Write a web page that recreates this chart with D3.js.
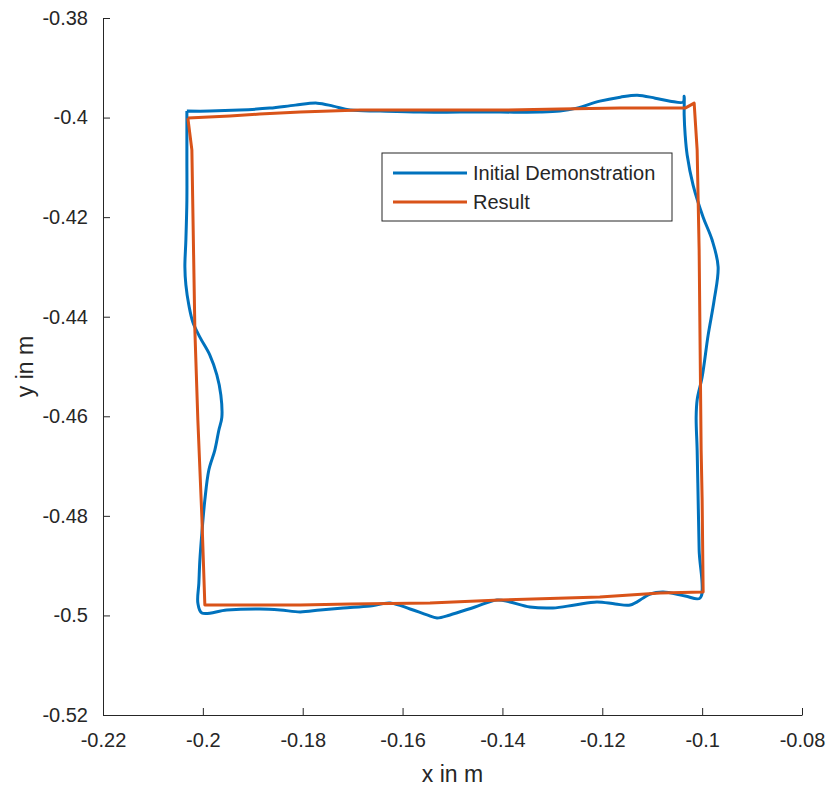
<!DOCTYPE html>
<html>
<head>
<meta charset="utf-8">
<script src="https://cdn.jsdelivr.net/npm/d3@7"></script>
<style>
  body { margin: 0; background: #fff; }
  text { font-family: "Liberation Sans", Arial, sans-serif; fill: #262626; }
</style>
</head>
<body>
<div id="chart"></div>
<script>
// Initial demonstration trajectory (blue)
const demoX = [-0.2032, -0.1986, -0.1926, -0.1866, -0.1815, -0.1771, -0.1739, -0.1705, -0.1645, -0.1565,
  -0.1485, -0.1405, -0.1325, -0.1285, -0.1251, -0.1205, -0.1164, -0.1130, -0.1094, -0.1064,
  -0.1038, -0.1036, -0.1036, -0.1034, -0.1030, -0.1018, -0.0998, -0.0980, -0.0968, -0.0976,
  -0.0988, -0.1000, -0.1010, -0.1012, -0.1010, -0.1008, -0.1006, -0.1004, -0.1034, -0.1078,
  -0.1104, -0.1118, -0.1144, -0.1174, -0.1211, -0.1255, -0.1299, -0.1345, -0.1385, -0.1411,
  -0.1455, -0.1505, -0.1531, -0.1551, -0.1585, -0.1625, -0.1665, -0.1719, -0.1765, -0.1805,
  -0.1845, -0.1886, -0.1952, -0.2002, -0.2010, -0.2008, -0.2006, -0.2002, -0.1996, -0.1988,
  -0.1976, -0.1968, -0.1962, -0.1964, -0.1972, -0.1986, -0.2006, -0.2020, -0.2028, -0.2034,
  -0.2036, -0.2034, -0.2032, -0.2032, -0.2032, -0.2032];
const demoY = [-0.3987, -0.3987, -0.3985, -0.3981, -0.3975, -0.3971, -0.3977, -0.3985, -0.3987, -0.3989,
  -0.3989, -0.3989, -0.3989, -0.3987, -0.3981, -0.3967, -0.3959, -0.3955, -0.3961, -0.3967,
  -0.3969, -0.3957, -0.3995, -0.4035, -0.4075, -0.4136, -0.4200, -0.4246, -0.4300, -0.4367,
  -0.4437, -0.4521, -0.4567, -0.4602, -0.4668, -0.4768, -0.4869, -0.4965, -0.4961, -0.4953,
  -0.4957, -0.4965, -0.4979, -0.4977, -0.4973, -0.4979, -0.4985, -0.4983, -0.4973, -0.4969,
  -0.4983, -0.4999, -0.5005, -0.4999, -0.4987, -0.4975, -0.4981, -0.4985, -0.4989, -0.4993,
  -0.4989, -0.4987, -0.4989, -0.4995, -0.4975, -0.4935, -0.4889, -0.4835, -0.4768, -0.4708,
  -0.4668, -0.4628, -0.4602, -0.4557, -0.4517, -0.4477, -0.4441, -0.4411, -0.4377, -0.4336,
  -0.4300, -0.4246, -0.4166, -0.4085, -0.4025, -0.3987];

// Result trajectory (orange)
const resultX = [-0.2030, -0.1946, -0.1886, -0.1805, -0.1685, -0.1565, -0.1405, -0.1285, -0.1164, -0.1034,
  -0.1016, -0.1010, -0.1006, -0.1004, -0.1002, -0.1000, -0.0998, -0.1084, -0.1205, -0.1405,
  -0.1545, -0.1705, -0.1805, -0.1996, -0.2002, -0.2010, -0.2016, -0.2022, -0.2030];
const resultY = [-0.4001, -0.3997, -0.3993, -0.3989, -0.3985, -0.3985, -0.3985, -0.3983, -0.3981, -0.3981,
  -0.3971, -0.4065, -0.4266, -0.4467, -0.4668, -0.4768, -0.4953, -0.4955, -0.4963, -0.4969,
  -0.4975, -0.4977, -0.4979, -0.4979, -0.4802, -0.4608, -0.4427, -0.4065, -0.4001];

const xTicks = [-0.22, -0.2, -0.18, -0.16, -0.14, -0.12, -0.1, -0.08];
const yTicks = [-0.38, -0.4, -0.42, -0.44, -0.46, -0.48, -0.5, -0.52];
const seriesNames = ["Initial Demonstration", "Result"];
const seriesColors = ["#0072BD", "#D95319"];

// Dimensions
const margin = { top: 18, right: 26, bottom: 72, left: 103 };
const width = 828 - margin.left - margin.right;
const height = 787 - margin.top - margin.bottom;

const svg = d3.select("#chart")
    .append("svg")
    .attr("width", 828)
    .attr("height", 787)
    .append("g")
    .attr("transform", `translate(${margin.left},${margin.top})`);

const x = d3.scaleLinear().domain([-0.22, -0.08]).range([0, width]);
const y = d3.scaleLinear().domain([-0.52, -0.38]).range([height, 0]);

// Axes, ticks pointing inward like MATLAB
const xAxis = svg.append("g")
    .attr("transform", `translate(0,${height})`)
    .call(d3.axisBottom(x).tickValues(xTicks).tickFormat(d => String(+d.toFixed(2))).tickSizeInner(-7).tickSizeOuter(0).tickPadding(18));

const yAxis = svg.append("g")
    .call(d3.axisLeft(y).tickValues(yTicks).tickFormat(d => String(+d.toFixed(2))).tickSizeInner(-7).tickSizeOuter(0).tickPadding(15));

[xAxis, yAxis].forEach(a => {
    a.select(".domain").attr("stroke", "#262626");
    a.selectAll(".tick line").attr("stroke", "#262626");
    a.selectAll(".tick text")
        .style("font-family", "'Liberation Sans', Arial, sans-serif")
        .style("font-size", "20px")
        .attr("fill", "#262626");
});

// Axis labels
svg.append("text")
    .attr("x", width / 2)
    .attr("y", height + 67)
    .attr("text-anchor", "middle")
    .style("font-size", "23px")
    .text("x in m");

svg.append("text")
    .attr("transform", "rotate(-90)")
    .attr("x", -height / 2)
    .attr("y", -70)
    .attr("text-anchor", "middle")
    .style("font-size", "23px")
    .text("y in m");

// Lines
const line = d3.line()
    .x(d => x(d[0]))
    .y(d => y(d[1]))
    .curve(d3.curveCatmullRom.alpha(0.5));

const demo = demoX.map((v, i) => [v, demoY[i]]);
const result = resultX.map((v, i) => [v, resultY[i]]);

svg.append("path")
    .datum(demo)
    .attr("fill", "none")
    .attr("stroke", seriesColors[0])
    .attr("stroke-width", 3)
    .attr("stroke-linejoin", "round")
    .attr("d", line);

svg.append("path")
    .datum(result)
    .attr("fill", "none")
    .attr("stroke", seriesColors[1])
    .attr("stroke-width", 3)
    .attr("stroke-linejoin", "round")
    .attr("d", line.curve(d3.curveLinear));

// Legend
const legend = svg.append("g")
    .attr("transform", `translate(${382 - margin.left},${153 - margin.top})`);

legend.append("rect")
    .attr("width", 290)
    .attr("height", 68)
    .attr("fill", "#fff")
    .attr("stroke", "#262626")
    .attr("stroke-width", 1);

seriesNames.forEach((name, i) => {
    legend.append("line")
        .attr("x1", 11)
        .attr("x2", 85)
        .attr("y1", 20 + i * 29)
        .attr("y2", 20 + i * 29)
        .attr("stroke", seriesColors[i])
        .attr("stroke-width", 3);
    legend.append("text")
        .attr("x", 91)
        .attr("y", 20 + i * 29)
        .attr("dy", "0.35em")
        .style("font-size", "20px")
        .text(name);
});
</script>
</body>
</html>
